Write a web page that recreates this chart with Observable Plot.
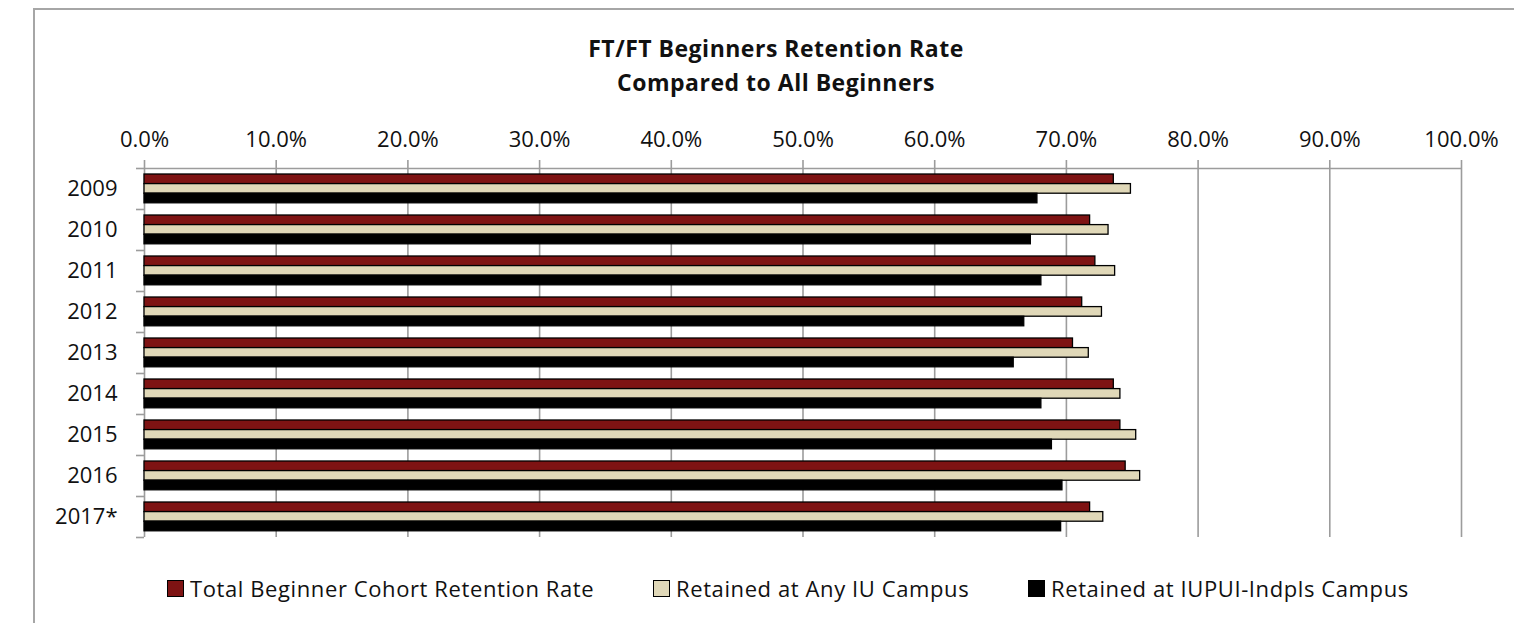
<!DOCTYPE html>
<html>
<head>
<meta charset="utf-8">
<script src="https://cdn.jsdelivr.net/npm/d3@7"></script>
<script src="https://cdn.jsdelivr.net/npm/@observablehq/plot@0.6"></script>
<style>
  html, body { margin: 0; padding: 0; background: #fff; }
  body { width: 1514px; height: 623px; overflow: hidden; font-family: "Open Sans", Lato, sans-serif; color: #111; }
  #wrap { position: relative; width: 1514px; height: 623px; }
  #border { position: absolute; left: 33px; top: 8px; width: 1500px; height: 640px; border-left: 2px solid #a6a6a6; border-top: 2px solid #a6a6a6; box-sizing: border-box; }
  #title { position: relative; margin-left: 33px; width: 1486px; height: 110px; box-sizing: border-box; padding-top: 31px; text-align: center; font-weight: bold; font-size: 23px; line-height: 34px; letter-spacing: 0.5px; }
  #chart { position: relative; height: 450px; }
  #legend { position: relative; height: 63px; font-size: 22px; letter-spacing: 0.6px; }
  .item { position: absolute; top: 16px; display: flex; align-items: center; height: 24px; white-space: nowrap; }
  .sw { width: 15px; height: 15px; border: 1px solid #000; margin-right: 6px; }
</style>
</head>
<body>
<div id="wrap">
  <div id="border"></div>
  <div id="title">FT/FT Beginners Retention Rate<br>Compared to All Beginners</div>
  <div id="chart"></div>
  <div id="legend"></div>
</div>
<script>
const years = ["2009", "2010", "2011", "2012", "2013", "2014", "2015", "2016", "2017*"];
const totalRate = [73.6, 71.8, 72.2, 71.2, 70.5, 73.6, 74.1, 74.5, 71.8];
const anyIU = [74.9, 73.2, 73.7, 72.7, 71.7, 74.1, 75.3, 75.6, 72.8];
const iupui = [67.8, 67.3, 68.1, 66.8, 66.0, 68.1, 68.9, 69.7, 69.6];
const seriesNames = ["Total Beginner Cohort Retention Rate", "Retained at Any IU Campus", "Retained at IUPUI-Indpls Campus"];
const seriesColors = ["#7e1313", "#e0d8b8", "#000000"];
const xTicks = [0, 10, 20, 30, 40, 50, 60, 70, 80, 90, 100];

const seriesValues = [totalRate, anyIU, iupui];
const rows = seriesValues.map((vals, s) => years.map((y, i) => ({year: y, value: vals[i], series: seriesNames[s]})));

const step = 41;
const barH = 9.6;
const groupTop = 6;
const gridColor = "#9c9c9c";

const barMarks = rows.map((data, s) => Plot.barX(data, {
  x: "value",
  y: "year",
  fill: seriesColors[s],
  stroke: "#000",
  strokeWidth: 1.3,
  insetTop: groupTop + s * barH,
  insetBottom: step - groupTop - (s + 1) * barH
}));

const chart = Plot.plot({
  width: 1514,
  height: 450,
  marginTop: 58,
  marginBottom: 23,
  marginLeft: 144,
  marginRight: 53,
  style: {fontFamily: "'Open Sans', Lato, sans-serif", fontSize: "22px", color: "#111", background: "transparent"},
  x: {domain: [0, 100], ticks: xTicks},
  y: {domain: years, padding: 0},
  marks: [
    Plot.ruleX(xTicks, {stroke: gridColor, strokeWidth: 1.6, insetTop: -8}),
    Plot.ruleY([years[0]], {x1: 0, x2: 100, stroke: gridColor, strokeWidth: 1.6, dy: -step / 2}),
    Plot.ruleY(years, {x1: 0, x2: 0, insetLeft: -8, stroke: gridColor, strokeWidth: 1.6, dy: -step / 2}),
    Plot.ruleY([years[years.length - 1]], {x1: 0, x2: 0, insetLeft: -8, stroke: gridColor, strokeWidth: 1.6, dy: step / 2}),
    ...barMarks,
    Plot.axisX(xTicks, {anchor: "top", tickSize: 0, tickPadding: 22, tickFormat: d => d.toFixed(1) + "%", label: null, fill: "#111"}),
    Plot.axisY({anchor: "left", tickSize: 0, tickPadding: 27, label: null, fill: "#111"})
  ]
});
document.getElementById("chart").appendChild(chart);

const legendX = [167, 653, 1028];
const legend = document.getElementById("legend");
seriesNames.forEach((name, i) => {
  const item = document.createElement("div");
  item.className = "item";
  item.style.left = legendX[i] + "px";
  const sw = document.createElement("div");
  sw.className = "sw";
  sw.style.background = seriesColors[i];
  const t = document.createElement("span");
  t.textContent = name;
  item.appendChild(sw);
  item.appendChild(t);
  legend.appendChild(item);
});
</script>
</body>
</html>
